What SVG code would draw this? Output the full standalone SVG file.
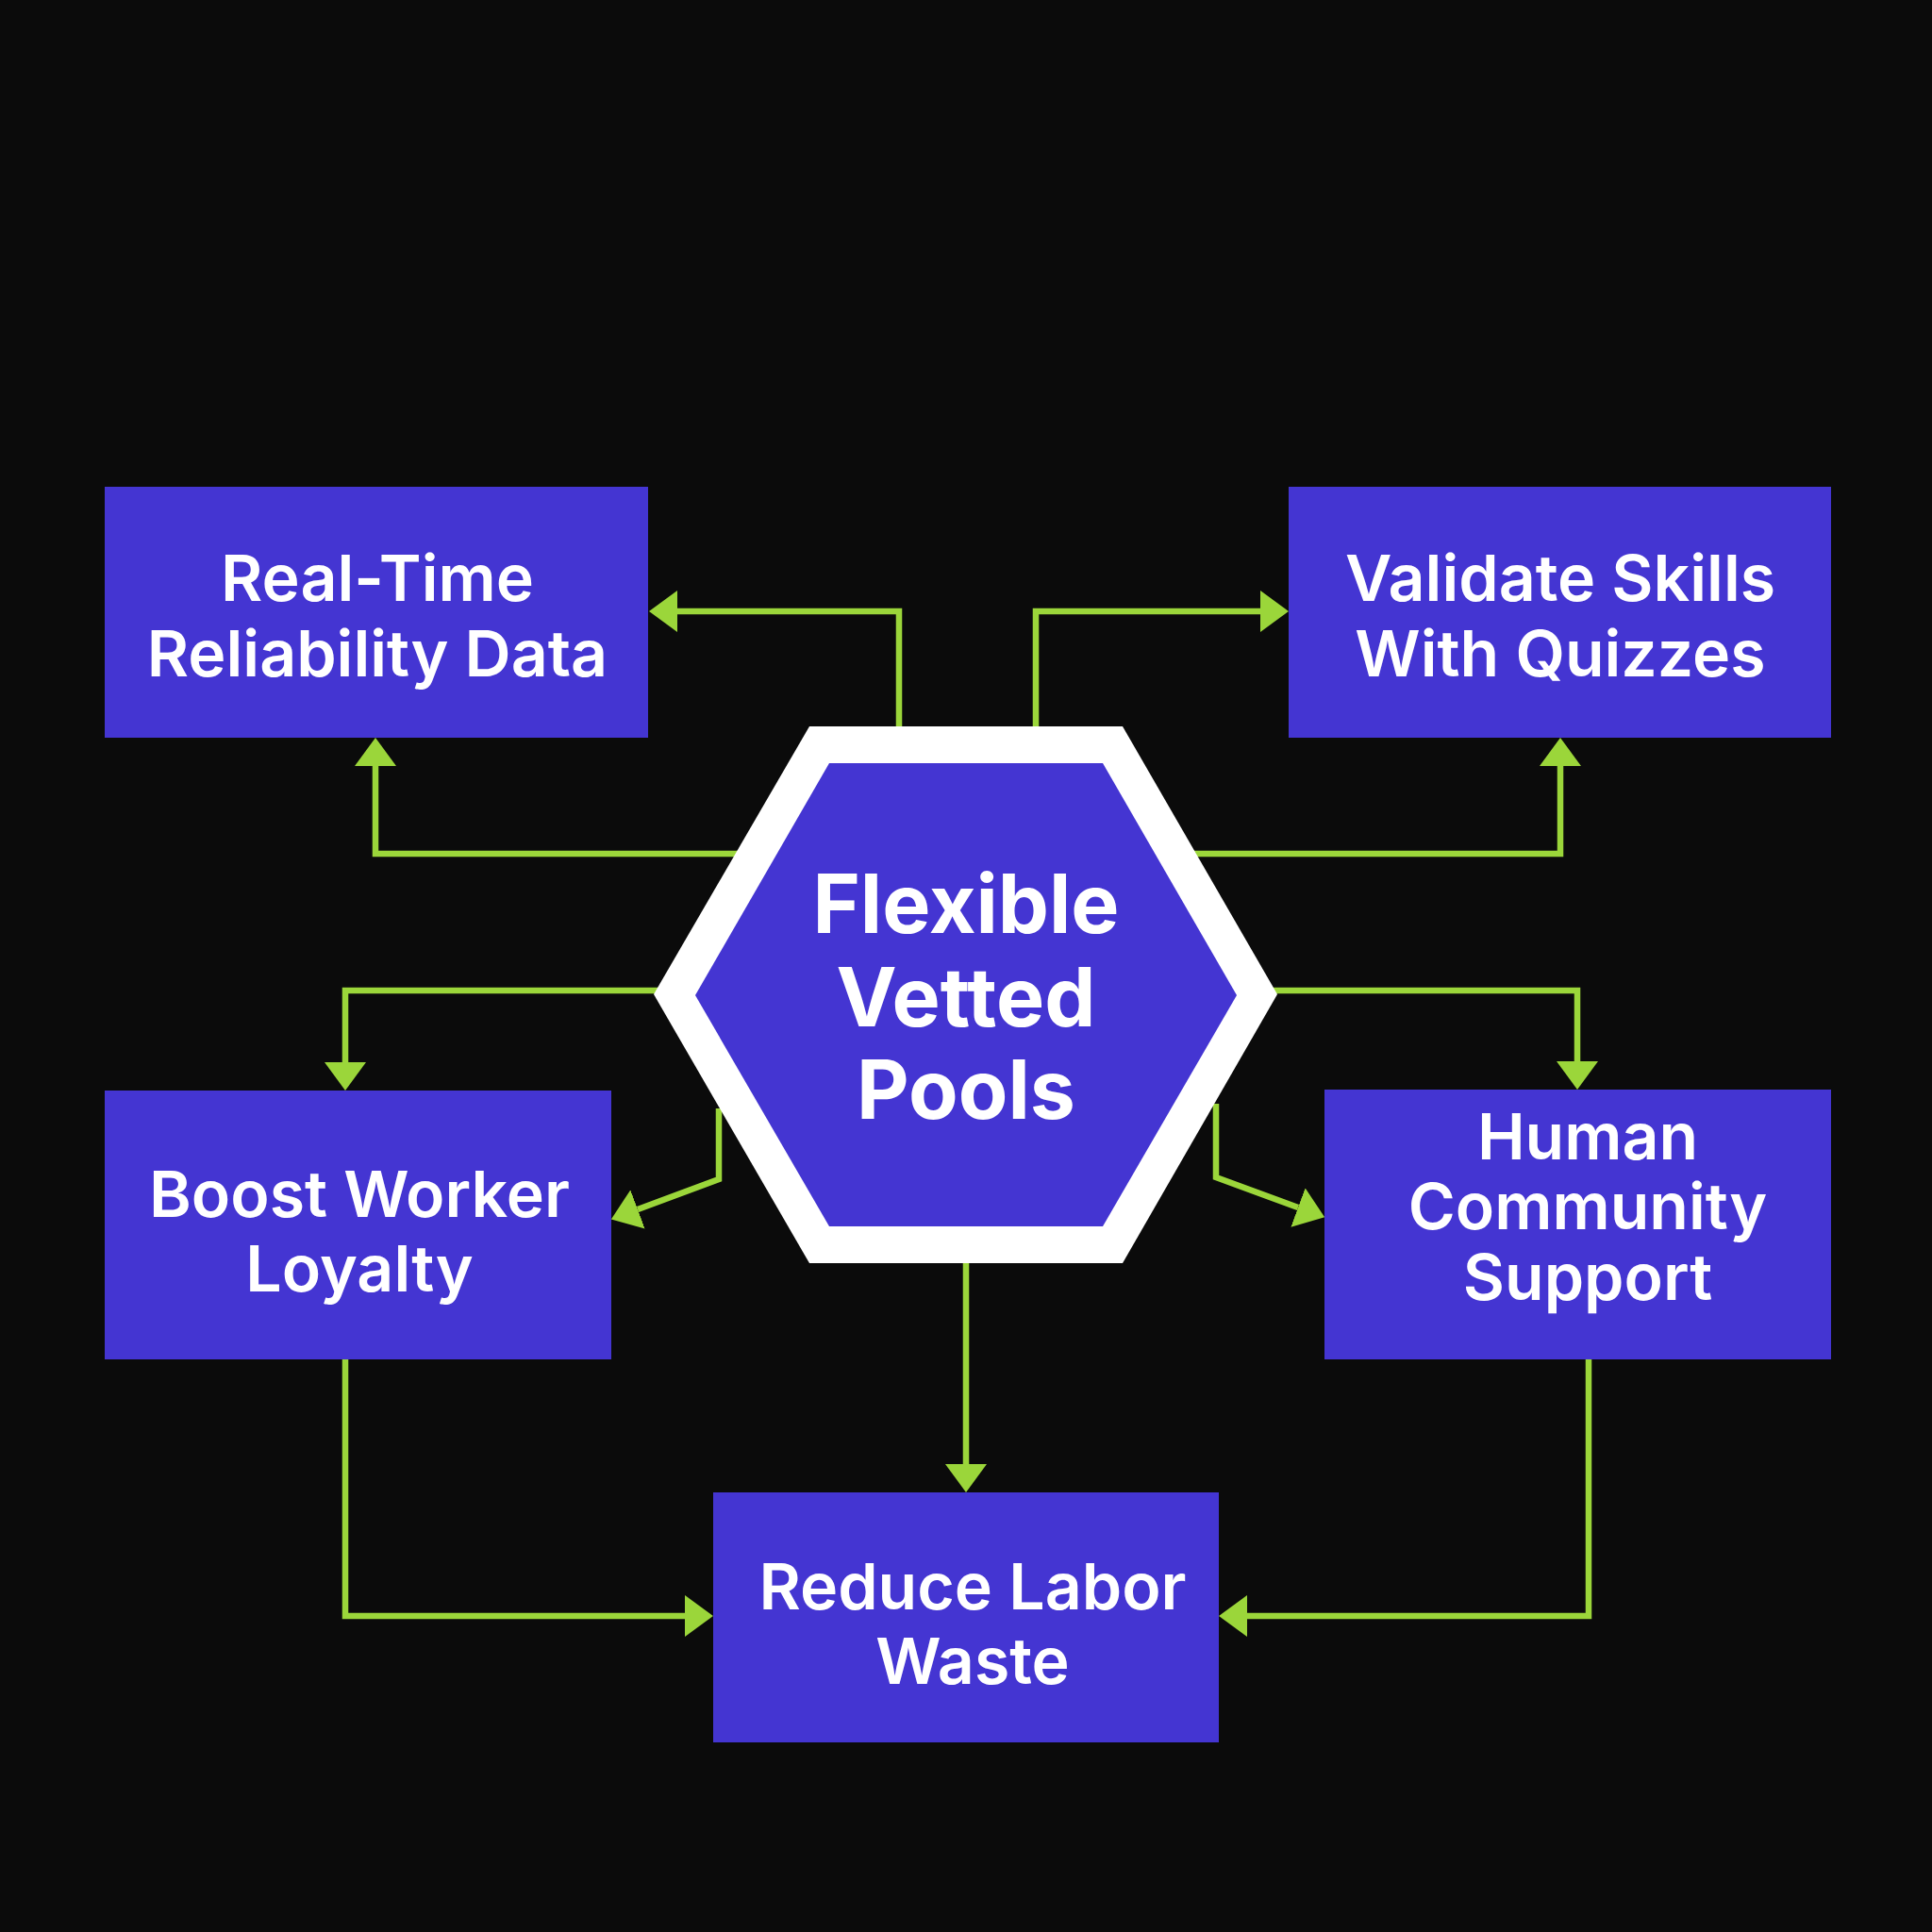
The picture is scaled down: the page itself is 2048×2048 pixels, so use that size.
<svg xmlns="http://www.w3.org/2000/svg" width="2048" height="2048" viewBox="0 0 2048 2048">
<style>
.box{fill:#4435d2;}
.lbl{font-family:Inter,"Liberation Sans",sans-serif;font-weight:600;font-size:68px;fill:#ffffff;text-anchor:middle;}
.hexlbl{font-family:Inter,"Liberation Sans",sans-serif;font-weight:700;font-size:86px;fill:#ffffff;text-anchor:middle;}
.conn{fill:none;stroke:#9bd63a;stroke-width:6.5;marker-end:url(#ah);}
</style>
<defs>
<marker id="ah" markerUnits="userSpaceOnUse" markerWidth="30" markerHeight="44" viewBox="0 0 30 44" refX="0" refY="22" orient="auto">
<path d="M0,0 L30,22 L0,44 Z" fill="#9bd63a"/>
</marker>
</defs>
<rect width="2048" height="2048" fill="#0b0b0b"/>
<g id="connectors">
<path class="conn" d="M953,775 V648 H718"/>
<path class="conn" d="M1098,775 V648 H1336"/>
<path class="conn" d="M784,905 H398 V812"/>
<path class="conn" d="M1264,905 H1654 V812"/>
<path class="conn" d="M700,1050 H366 V1126"/>
<path class="conn" d="M1348,1050 H1672 V1125"/>
<path class="conn" d="M762,1175 V1250 L676,1282"/>
<path class="conn" d="M1289,1170 V1248 L1376,1280"/>
<path class="conn" d="M1024,1335 V1552"/>
<path class="conn" d="M366,1441 V1713 H726"/>
<path class="conn" d="M1684,1441 V1713 H1322"/>
</g>
<g id="node-realtime">
<rect class="box" x="111" y="516" width="576" height="266"/>
<text class="lbl" x="400" y="637">Real-Time</text>
<text class="lbl" x="400" y="717">Reliability Data</text>
</g>
<g id="node-validate">
<rect class="box" x="1366" y="516" width="575" height="266"/>
<text class="lbl" x="1654" y="637">Validate Skills</text>
<text class="lbl" x="1654" y="717">With Quizzes</text>
</g>
<g id="node-hub">
<polygon points="858,770 1190,770 1354,1054 1190,1339 858,1339 693,1054" fill="#ffffff"/>
<polygon points="879,809 1169,809 1311,1055 1169,1300 879,1300 737,1055" fill="#4435d2"/>
<text class="hexlbl" x="1024" y="989">Flexible</text>
<text class="hexlbl" x="1024" y="1088">Vetted</text>
<text class="hexlbl" x="1024" y="1186">Pools</text>
</g>
<g id="node-boost">
<rect class="box" x="111" y="1156" width="537" height="285"/>
<text class="lbl" x="381" y="1290">Boost Worker</text>
<text class="lbl" x="381" y="1369">Loyalty</text>
</g>
<g id="node-human">
<rect class="box" x="1404" y="1155" width="537" height="286"/>
<text class="lbl" x="1683" y="1229">Human</text>
<text class="lbl" x="1683" y="1303">Community</text>
<text class="lbl" x="1683" y="1378">Support</text>
</g>
<g id="node-reduce">
<rect class="box" x="756" y="1582" width="536" height="265"/>
<text class="lbl" x="1031" y="1706">Reduce Labor</text>
<text class="lbl" x="1031" y="1785">Waste</text>
</g>
</svg>
